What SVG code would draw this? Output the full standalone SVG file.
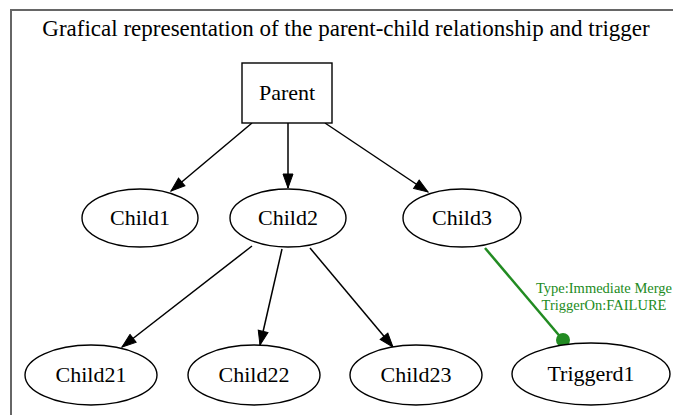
<svg xmlns="http://www.w3.org/2000/svg" width="673" height="415" viewBox="0 0 673 415">
<style>
.node ellipse, .node rect { fill: #fff; stroke: #000; stroke-width: 1.4; }
.lbl { font-family: "Liberation Serif", "Times New Roman", serif; font-size: 22px; text-anchor: middle; fill: #000; }
.title { font-family: "Liberation Serif", "Times New Roman", serif; font-size: 23px; text-anchor: middle; fill: #000; }
.edge { stroke: #000; stroke-width: 1.5; fill: none; marker-end: url(#arr); }
.trig { stroke: #228b22; stroke-width: 2.5; fill: none; }
.tl { font-family: "Liberation Serif", "Times New Roman", serif; font-size: 14.5px; text-anchor: middle; fill: #228b22; }
</style>
<defs>
<marker id="arr" markerUnits="userSpaceOnUse" markerWidth="16" markerHeight="12" refX="15" refY="6" orient="auto">
<path d="M1,1 L15,6 L1,11 z" fill="#000" stroke="#000" stroke-width="1"/>
</marker>
</defs>
<rect x="0" y="0" width="673" height="415" fill="#fff"/>
<path d="M11,415 L11,10 L673,10" fill="none" stroke="#666" stroke-width="2"/>
<text x="346" y="36" class="title">Grafical representation of the parent-child relationship and trigger</text>
<g id="connectors">
<path class="edge" d="M252,123 L171,191"/>
<path class="edge" d="M288,123 L288,188"/>
<path class="edge" d="M325,123 L428,192"/>
<path class="edge" d="M252,246 L122,347"/>
<path class="edge" d="M282,249 L260,345"/>
<path class="edge" d="M310,248 L393,347"/>
<path class="trig" d="M485,248 L563,340"/>
<circle cx="563" cy="340" r="7" fill="#228b22"/>
<text class="tl" x="604" y="293">Type:Immediate Merge</text>
<text class="tl" x="604" y="310">TriggerOn:FAILURE</text>
</g>
<g id="Parent" class="node"><rect x="242" y="63" width="90" height="60"/><text class="lbl" x="287" y="100">Parent</text></g>
<g id="Child1" class="node"><ellipse cx="140" cy="218" rx="58" ry="29"/><text class="lbl" x="140" y="225">Child1</text></g>
<g id="Child2" class="node"><ellipse cx="288" cy="218" rx="58" ry="29"/><text class="lbl" x="288" y="225">Child2</text></g>
<g id="Child3" class="node"><ellipse cx="462" cy="218" rx="59" ry="29"/><text class="lbl" x="462" y="225">Child3</text></g>
<g id="Child21" class="node"><ellipse cx="91" cy="375" rx="66" ry="30"/><text class="lbl" x="91" y="382">Child21</text></g>
<g id="Child22" class="node"><ellipse cx="254" cy="375" rx="66" ry="30"/><text class="lbl" x="254" y="382">Child22</text></g>
<g id="Child23" class="node"><ellipse cx="416" cy="375" rx="66" ry="30"/><text class="lbl" x="416" y="382">Child23</text></g>
<g id="Triggerd1" class="node"><ellipse cx="591" cy="374" rx="79" ry="31"/><text class="lbl" x="591" y="381">Triggerd1</text></g>
</svg>
